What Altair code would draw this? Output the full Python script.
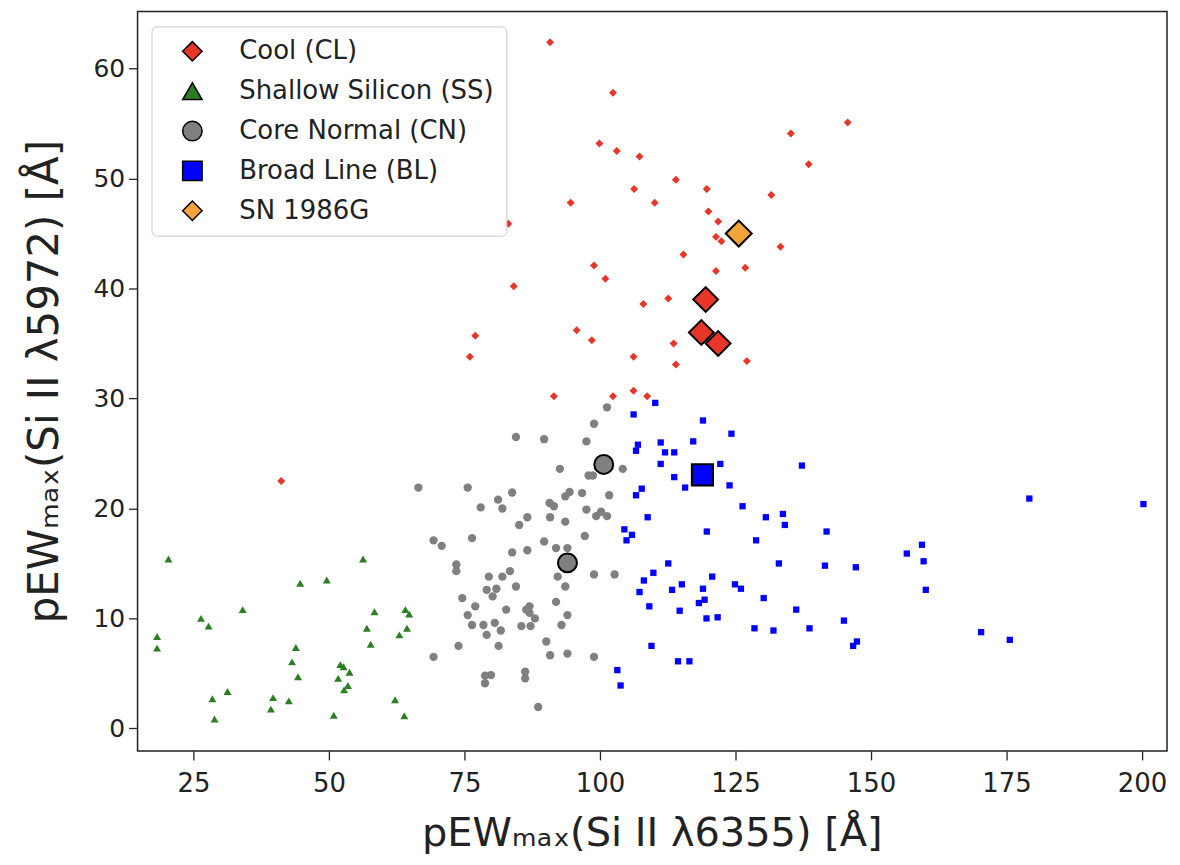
import altair as alt
import pandas as pd

# ---------------- data ----------------
groups = ["Cool (CL)", "Shallow Silicon (SS)", "Core Normal (CN)", "Broad Line (BL)", "SN 1986G"]
colors = ["#e8352a", "#2a7f22", "#808080", "#0000ff", "#f2a33a"]
shapes = ["diamond", "triangle-up", "circle", "square", "diamond"]

cl_x = [90.8, 102.4, 135.2, 145.7, 99.9, 103.1, 107.3, 138.5, 114.0, 119.7, 106.3, 131.6, 94.6, 110.1,
        120.0, 121.8, 83.1, 121.4, 122.4, 133.3, 115.4, 121.4, 126.8, 98.9, 101.0, 84.1, 112.6, 108.0,
        77.0, 76.0, 95.7, 98.5, 113.6, 114.0, 106.2, 127.1, 91.5, 102.4, 106.2, 108.7, 41.2]
cl_y = [62.4, 57.8, 54.1, 55.1, 53.2, 52.5, 52.0, 51.3, 49.9, 49.05, 49.05, 48.5, 47.8, 47.8,
        47.0, 46.1, 45.9, 44.7, 44.3, 43.8, 43.1, 41.6, 41.9, 42.1, 40.9, 40.2, 39.1, 38.6,
        35.7, 33.8, 36.2, 35.3, 35.0, 33.1, 33.8, 33.4, 30.2, 30.2, 30.7, 30.2, 22.5]

ss_x = [20.4, 56.3, 44.7, 49.6, 34.1, 26.4, 27.8, 18.3, 18.3, 58.4, 64.1, 64.8, 57.0, 64.4, 63.0, 57.7,
        43.9, 43.2, 44.3, 52.1, 52.7, 53.8, 51.7, 53.5, 52.8, 31.3, 28.5, 39.7, 42.6, 39.3, 28.9, 50.9,
        62.2, 63.9]
ss_y = [15.4, 15.4, 13.2, 13.5, 10.8, 10.0, 9.3, 8.35, 7.3, 10.6, 10.8, 10.4, 9.1, 9.1, 8.5, 7.65,
        7.35, 6.05, 4.7, 5.8, 5.6, 5.1, 4.55, 3.9, 3.5, 3.35, 2.7, 2.8, 2.5, 1.75, 0.85, 1.2,
        2.6, 1.15]

cn_x = [101.3, 98.9, 84.5, 89.7, 97.5, 104.2, 92.6, 97.9, 98.7, 66.5, 75.6, 83.8, 81.2, 82.0, 78.0,
        94.4, 93.6, 90.7, 91.5, 96.7, 101.7, 97.5, 99.3, 100.2, 101.3, 86.6, 85.1, 90.8, 93.6, 69.3,
        70.8, 76.4, 89.7, 91.9, 94.0, 97.2, 83.8, 86.6, 73.5, 73.5, 83.4, 82.0, 79.5, 92.2, 98.9,
        102.7, 84.5, 93.6, 79.1, 80.9, 80.2, 74.6, 77.0, 91.9, 82.7, 86.4, 87.0, 87.0, 88.0, 75.6,
        94.0, 76.4, 78.5, 80.6, 81.7, 79.1, 85.5, 87.2, 92.9, 73.9, 81.3, 69.3, 90.1, 90.8, 94.0,
        98.9, 78.8, 79.9, 78.8, 86.2, 86.2, 88.6]
cn_y = [29.2, 27.7, 26.5, 26.3, 26.1, 23.6, 23.6, 23.0, 23.0, 21.9, 21.9, 21.45, 20.8, 20.0, 20.1,
        21.5, 21.1, 20.5, 20.2, 21.4, 21.2, 19.9, 19.3, 19.7, 19.3, 19.2, 18.5, 19.2, 18.8, 17.1,
        16.6, 17.3, 17.0, 16.4, 16.4, 17.5, 16.0, 16.2, 14.9, 14.3, 14.3, 13.8, 13.8, 13.8, 14.0,
        14.0, 12.9, 12.9, 12.6, 12.7, 12.0, 11.85, 11.1, 11.5, 10.8, 10.8, 11.1, 10.5, 10.0, 10.3,
        10.3, 9.4, 9.4, 9.6, 8.9, 8.5, 9.3, 9.3, 9.4, 7.5, 7.5, 6.5, 7.9, 6.65, 6.8,
        6.5, 4.8, 4.85, 4.1, 5.15, 4.55, 1.95]

bl_x = [110.2, 106.2, 119.0, 124.25, 117.2, 111.2, 107.0, 106.65, 112.0, 113.7, 111.2, 122.2, 137.25,
        113.7, 115.7, 123.9, 107.7, 106.65, 126.3, 108.8, 130.6, 133.75, 134.1, 104.5, 105.9, 104.9,
        119.7, 128.8, 141.8, 112.6, 133.0, 141.5, 147.2, 109.85, 108.1, 107.3, 120.7, 115.1, 113.3,
        119.0, 124.9, 126.0, 109.1, 119.3, 118.25, 130.2, 114.7, 136.2, 119.65, 121.7, 145.0, 128.5,
        132.0, 138.65, 146.7, 147.4, 109.5, 114.4, 116.5, 103.2, 103.8, 179.2, 200.25, 159.4, 156.6,
        159.7, 160.1, 170.3, 175.6]
bl_y = [29.6, 28.55, 28.0, 26.8, 26.1, 26.0, 25.8, 25.25, 25.1, 25.1, 24.05, 24.05, 23.9,
        22.85, 21.9, 22.1, 21.8, 21.2, 20.2, 19.2, 19.2, 19.5, 18.5, 18.1, 17.6, 17.1,
        17.9, 17.1, 17.9, 15.0, 15.0, 14.8, 14.65, 14.15, 13.45, 12.4, 13.8, 13.1, 12.6,
        12.7, 13.1, 12.7, 11.1, 11.7, 11.4, 11.85, 10.7, 10.8, 10.0, 10.1, 9.8, 9.1,
        8.9, 9.1, 7.5, 7.9, 7.5, 6.1, 6.1, 5.3, 3.9, 20.9, 20.4, 16.7, 15.9,
        15.2, 12.6, 8.75, 8.05]

# highlighted (large) markers
cl_big_x = [119.5, 118.7, 121.8]
cl_big_y = [39.0, 36.0, 35.0]
cn_big_x = [100.7, 94.0]
cn_big_y = [24.0, 15.05]
bl_big_x = [118.9]
bl_big_y = [23.05]
sn_x = [125.6]
sn_y = [45.0]

x_ticks = [25, 50, 75, 100, 125, 150, 175, 200]
y_ticks = [0, 10, 20, 30, 40, 50, 60]


def frame(xs, ys, g):
    return pd.DataFrame({"x": xs, "y": ys, "group": [g] * len(xs)})


FONT = "DejaVu Sans"

legend = alt.Legend(
    title=None,
    orient="none",
    legendX=14,
    legendY=15,
    padding=12,
    labelFont=FONT,
    labelFontSize=26,
    labelColor="#222222",
    labelLimit=0,
    labelOffset=34,
    symbolSize=380,
    symbolOffset=16,
    symbolStrokeColor="black",
    symbolStrokeWidth=1.5,
    rowPadding=14,
    strokeColor="#cccccc",
    fillColor="white",
    cornerRadius=5,
)

xenc = alt.X(
    "x:Q",
    scale=alt.Scale(domain=[14.7, 204.6], nice=False, zero=False),
    axis=alt.Axis(
        values=x_ticks,
        title="pEWₘₐₓ(Si II λ6355) [Å]",
        titleFont=FONT,
        titleFontSize=40,
        titleFontWeight="normal",
        titleColor="#222222",
        titleX=516,
        titleY=83,
        titleBaseline="middle",
        labelFont=FONT,
        labelFontSize=26,
        labelColor="#222222",
        labelPadding=11,
        tickSize=9,
        tickColor="#222222",
        tickWidth=1.3,
        domain=False,
        grid=False,
    ),
)
yenc = alt.Y(
    "y:Q",
    scale=alt.Scale(domain=[-2.05, 65.2], nice=False, zero=False),
    axis=alt.Axis(
        values=y_ticks,
        title="pEWₘₐₓ(Si II λ5972) [Å]",
        titleFont=FONT,
        titleFontSize=42,
        titleFontWeight="normal",
        titleColor="#222222",
        titleX=-93,
        titleY=371,
        titleBaseline="middle",
        labelFont=FONT,
        labelFontSize=25,
        labelColor="#222222",
        labelPadding=4,
        tickSize=9,
        tickColor="#222222",
        tickWidth=1.3,
        domain=False,
        grid=False,
    ),
)
cenc = alt.Color("group:N", scale=alt.Scale(domain=groups, range=colors), legend=legend)
senc = alt.Shape("group:N", scale=alt.Scale(domain=groups, range=shapes), legend=legend)


def layer(df, size, big=False):
    if big:
        props = dict(filled=True, size=size, opacity=1, stroke="black", strokeWidth=2)
    else:
        props = dict(filled=True, size=size, opacity=1, strokeWidth=0)
    return alt.Chart(df).mark_point(**props).encode(x=xenc, y=yenc, color=cenc, shape=senc)


layers = [
    layer(frame(cn_x, cn_y, groups[2]), 70),
    layer(frame(ss_x, ss_y, groups[1]), 64),
    layer(frame(bl_x, bl_y, groups[3]), 40),
    layer(frame(cl_x, cl_y, groups[0]), 64),
    layer(frame(cl_big_x, cl_big_y, groups[0]), 620, big=True),
    layer(frame(cn_big_x, cn_big_y, groups[2]), 360, big=True),
    layer(frame(bl_big_x, bl_big_y, groups[3]), 450, big=True),
    layer(frame(sn_x, sn_y, groups[4]), 680, big=True),
]

chart = (
    alt.layer(*layers)
    .properties(
        width=1033,
        height=742,
        autosize=alt.AutoSizeParams(type="none"),
        padding={"left": 130, "top": 2, "right": 5, "bottom": 110},
        background="white",
    )
    .configure_view(stroke="#222222", strokeWidth=1.5)
)

chart.save("out.html", embed_options={"renderer": "svg", "actions": False})
